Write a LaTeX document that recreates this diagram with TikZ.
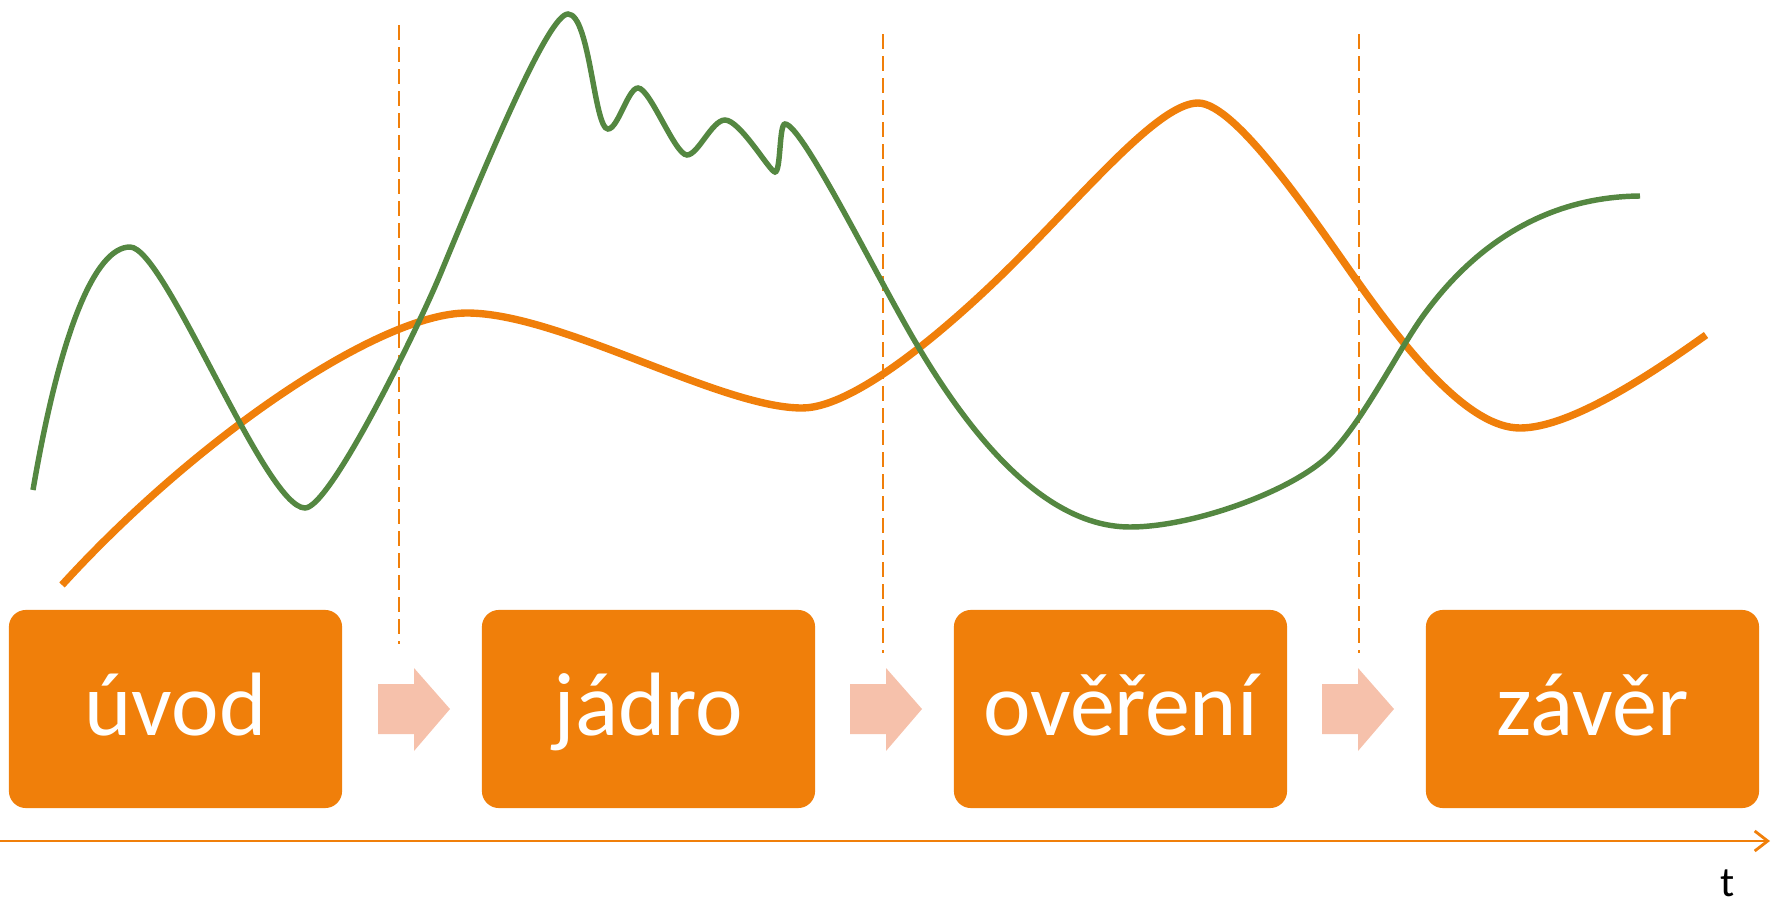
\documentclass[tikz,border=0pt]{standalone}
\usepackage{fontspec}
\setmainfont{Carlito}
\usetikzlibrary{arrows.meta}
\definecolor{orng}{RGB}{240,127,10}
\definecolor{grn}{RGB}{84,135,65}
\definecolor{salmon}{RGB}{246,193,171}
\begin{document}
\begin{tikzpicture}[x=0.01cm,y=-0.01cm,
  phase/.style={fill=orng, rounded corners=0.17cm, minimum width=3.33cm, minimum height=1.98cm,
    inner sep=0pt, outer sep=0pt, text=white, font=\fontsize{25.6}{30}\selectfont,
    text height=0.6cm, text depth=0.08cm},
  flow/.style={fill=salmon},
  divider/.style={orng, line width=0.6pt, dash pattern=on 0.15cm off 0.07cm},
  curveA/.style={orng, line width=2.1pt},
  curveB/.style={grn, line width=1.55pt},
  timeaxis/.style={orng, line width=0.8pt, -{Straight Barb[length=0.13cm,width=0.2cm,line width=0.8pt]}}]
\useasboundingbox (0,0) rectangle (1771,906);

% dividers
\coordinate (d1t) at (399,25);  \coordinate (d1b) at (399,644);
\coordinate (d2t) at (883,34);  \coordinate (d2b) at (883,653);
\coordinate (d3t) at (1359,34); \coordinate (d3b) at (1359,653);
\draw[divider] (d1t) -- (d1b);
\draw[divider] (d2t) -- (d2b);
\draw[divider] (d3t) -- (d3b);

% orange curve
\draw[curveA] (62,585)
  .. controls (197,437) and (380,313) .. (467,313)
  .. controls (560,313) and (720,408) .. (802,408)
  .. controls (860,408) and (965,312) .. (1015,262)
  .. controls (1090,187) and (1160,103) .. (1198,103)
  .. controls (1235,103) and (1310,214) .. (1355,278)
  .. controls (1410,356) and (1470,428) .. (1520,428)
  .. controls (1570,428) and (1650,375) .. (1706,335);

% green curve
\draw[curveB] (33,490)
  .. controls (60,332) and (95,247) .. (130,247)
  .. controls (165,247) and (265,508) .. (305,508)
  .. controls (330,508) and (417,330) .. (440,275)
  .. controls (486,164) and (548,14) .. (568,14)
  .. controls (590,14) and (594,129) .. (608,129)
  .. controls (618,129) and (628,88) .. (638,88)
  .. controls (650,88) and (675,155) .. (687,155)
  .. controls (698,155) and (712,120) .. (725,120)
  .. controls (740,120) and (770,172) .. (775,172)
  .. controls (781,172) and (779,124) .. (785,124)
  .. controls (800,124) and (861,245) .. (900,315)
  .. controls (948,402) and (1030,527) .. (1130,527)
  .. controls (1190,527) and (1280,495) .. (1320,463)
  .. controls (1355,437) and (1395,355) .. (1423,316)
  .. controls (1462,262) and (1530,197) .. (1640,196);

% phase boxes
\node[phase] (uvod)    at (175.5,709)  {úvod};
\node[phase] (jadro)   at (648.5,709)  {jádro};
\node[phase] (overeni) at (1120.5,709) {ověření};
\node[phase] (zaver)   at (1592.5,709) {závěr};

% flow arrows
\fill[flow] (378,684) -- (414,684) -- (414,668) -- (450,709) -- (414,751) -- (414,734) -- (378,734) -- cycle;
\fill[flow] (850,684) -- (886,684) -- (886,668) -- (922,709) -- (886,751) -- (886,734) -- (850,734) -- cycle;
\fill[flow] (1322,684) -- (1358,684) -- (1358,668) -- (1394,709) -- (1358,751) -- (1358,734) -- (1322,734) -- cycle;

% time axis
\coordinate (ax0) at (0,841);
\coordinate (ax1) at (1770,841);
\draw[timeaxis] (ax0) -- (ax1);
\node[anchor=base, font=\fontsize{12}{14}\selectfont, inner sep=0pt] (tlabel) at (1728,896) {t};
\end{tikzpicture}
\end{document}
